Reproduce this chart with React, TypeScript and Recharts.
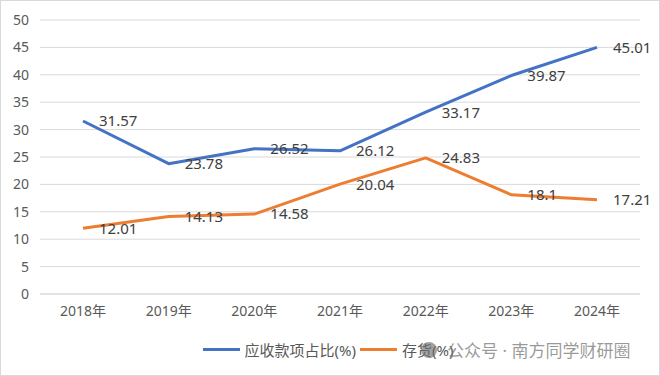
import React from 'react';
import {
  LineChart,
  Line,
  XAxis,
  YAxis,
  CartesianGrid,
  Legend,
  LabelList,
} from 'recharts';

const years = ['2018年', '2019年', '2020年', '2021年', '2022年', '2023年', '2024年'];
const receivables = [31.57, 23.78, 26.52, 26.12, 33.17, 39.87, 45.01];
const inventory = [12.01, 14.13, 14.58, 20.04, 24.83, 18.1, 17.21];
const yTicks = [0, 5, 10, 15, 20, 25, 30, 35, 40, 45, 50];

const SERIES = [
  { key: 'receivables', name: '应收款项占比(%)', color: '#4472C4' },
  { key: 'inventory', name: '存货(%)', color: '#ED7D31' },
];

const data = years.map((year, i) => ({
  year,
  receivables: receivables[i],
  inventory: inventory[i],
}));

const FONT = '"Noto Sans", "Noto Sans CJK SC", sans-serif';

const LegendContent = () => (
  <div
    style={{
      height: 30,
      display: 'flex',
      justifyContent: 'center',
      alignItems: 'center',
      paddingLeft: 20,
      fontFamily: FONT,
      fontSize: 15,
      color: '#595959',
    }}
  >
    {SERIES.map((s) => (
      <div key={s.key} style={{ display: 'flex', alignItems: 'center', marginRight: 4 }}>
        <span style={{ width: 37, height: 3, background: s.color, marginRight: 5 }} />
        <span>{s.name}</span>
      </div>
    ))}
  </div>
);

export default function App() {
  return (
    <div style={{ position: 'absolute', left: 0, top: 0, width: 660, height: 376, background: '#fff' }}>
      <LineChart
        width={660}
        height={376}
        data={data}
        margin={{ top: 20, right: 20, bottom: 12, left: 0 }}
        style={{ fontFamily: FONT }}
      >
        <CartesianGrid vertical={false} stroke="#d9d9d9" />
        <XAxis
          dataKey="year"
          height={40}
          padding={{ left: 43, right: 43 }}
          axisLine={{ stroke: '#d9d9d9' }}
          tickLine={false}
          tickMargin={6}
          tick={{ fill: '#595959', fontSize: 14 }}
        />
        <YAxis
          width={40}
          domain={[0, 50]}
          ticks={yTicks}
          axisLine={false}
          tickLine={false}
          tickMargin={5}
          tick={{ fill: '#595959', fontSize: 14 }}
        />
        <Legend verticalAlign="bottom" height={30} content={<LegendContent />} />
        {SERIES.map((s) => (
          <Line
            key={s.key}
            dataKey={s.key}
            name={s.name}
            stroke={s.color}
            strokeWidth={3}
            strokeLinejoin="round"
            dot={false}
            isAnimationActive={false}
          >
            <LabelList dataKey={s.key} position="right" offset={16} fill="#404040" fontSize={15} />
          </Line>
        ))}
      </LineChart>
      <div
        style={{
          position: 'absolute',
          left: 421,
          top: 337,
          display: 'flex',
          alignItems: 'center',
          fontFamily: FONT,
          fontSize: 17,
          color: 'rgba(120,120,120,0.75)',
          pointerEvents: 'none',
        }}
      >
        <span
          style={{
            width: 16,
            height: 16,
            borderRadius: 8,
            background: 'rgba(110,110,110,0.65)',
            marginRight: 10,
          }}
        />
        <span>公众号 · 南方同学财研圈</span>
      </div>
      <div
        style={{
          position: 'absolute',
          inset: 0,
          border: '1px solid #d9d9d9',
          pointerEvents: 'none',
        }}
      />
    </div>
  );
}
